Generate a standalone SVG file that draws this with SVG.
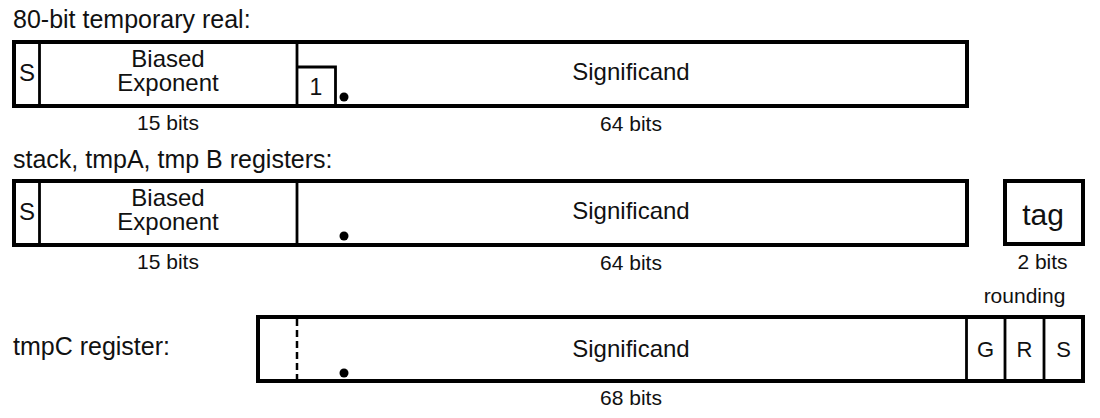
<svg xmlns="http://www.w3.org/2000/svg" width="1100" height="418" viewBox="0 0 1100 418">
<style>
text{font-family:"Liberation Sans",Arial,sans-serif;fill:#111}
.t{font-size:25px}
.b{font-size:24px;text-anchor:middle}
.l{font-size:21px;text-anchor:middle}
.box{fill:none;stroke:#000;stroke-width:4}
.div{stroke:#000;stroke-width:2.8}
.dash{stroke:#000;stroke-width:2.5;stroke-dasharray:7 4}
</style>
<rect width="1100" height="418" fill="#fff"/>

<g id="row1">
<text class="t" x="13" y="28">80-bit temporary real:</text>
<rect class="box" x="14" y="42" width="953" height="64"/>
<line class="div" x1="39.5" y1="42" x2="39.5" y2="106"/>
<line class="div" x1="297" y1="42" x2="297" y2="106"/>
<polyline points="297,67 335.5,67 335.5,106" fill="none" stroke="#000" stroke-width="2.8"/>
<text class="b" x="27" y="81">S</text>
<text class="b" x="168" y="67">Biased</text>
<text class="b" x="168" y="91">Exponent</text>
<text x="316" y="95" style="font-size:23px;text-anchor:middle">1</text>
<circle cx="344" cy="97" r="4.5" fill="#000"/>
<text class="b" x="631" y="80">Significand</text>
<text class="l" x="168" y="130">15 bits</text>
<text class="l" x="631" y="131">64 bits</text>
</g>

<g id="row2">
<text class="t" x="13" y="168">stack, tmpA, tmp B registers:</text>
<rect class="box" x="14" y="181" width="953" height="64"/>
<line class="div" x1="39.5" y1="181" x2="39.5" y2="245"/>
<line class="div" x1="297" y1="181" x2="297" y2="245"/>
<text class="b" x="27" y="220">S</text>
<text class="b" x="168" y="206">Biased</text>
<text class="b" x="168" y="230">Exponent</text>
<circle cx="344" cy="236" r="4.5" fill="#000"/>
<text class="b" x="631" y="219">Significand</text>
<text class="l" x="168" y="269">15 bits</text>
<text class="l" x="631" y="270">64 bits</text>
</g>

<g id="tag">
<rect class="box" x="1005" y="181" width="78" height="63"/>
<text x="1043" y="225" style="font-size:30px;text-anchor:middle">tag</text>
<text class="l" x="1042.5" y="269">2 bits</text>
</g>

<g id="row3">
<text class="t" x="13" y="355">tmpC register:</text>
<text class="l" x="1024.5" y="303">rounding</text>
<rect class="box" x="258" y="317" width="825" height="64"/>
<line class="dash" x1="297" y1="319" x2="297" y2="379"/>
<line class="div" x1="966.5" y1="317" x2="966.5" y2="381"/>
<line class="div" x1="1005" y1="317" x2="1005" y2="381"/>
<line class="div" x1="1044" y1="317" x2="1044" y2="381"/>
<circle cx="344" cy="373" r="4.5" fill="#000"/>
<text class="b" x="631" y="357">Significand</text>
<text x="985.5" y="357" style="font-size:22px;text-anchor:middle">G</text>
<text x="1024.5" y="357" style="font-size:22px;text-anchor:middle">R</text>
<text x="1063.5" y="357" style="font-size:22px;text-anchor:middle">S</text>
<text class="l" x="631" y="405">68 bits</text>
</g>
</svg>
